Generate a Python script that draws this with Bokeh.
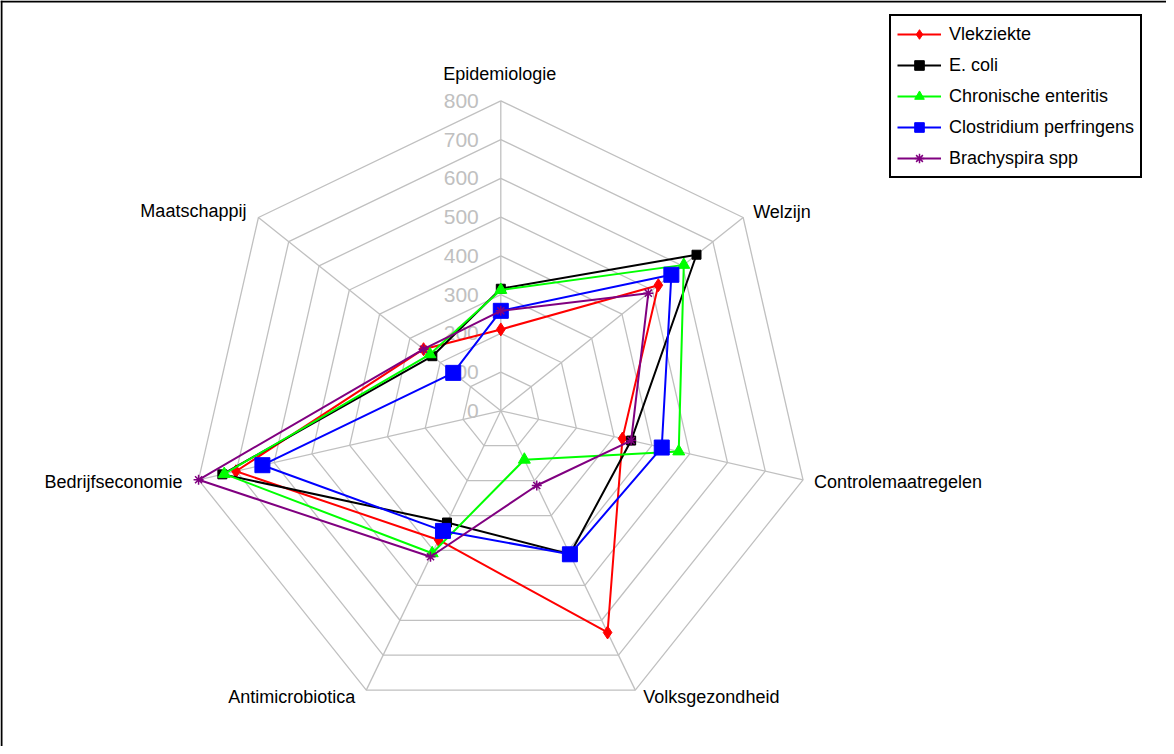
import math
from bokeh.plotting import figure
from bokeh.models import Range1d, Legend, LegendItem
from bokeh.core.properties import value
from bokeh.embed import file_html
from bokeh.resources import INLINE

# ---- data ----
categories = ["Epidemiologie", "Welzijn", "Controlemaatregelen", "Volksgezondheid",
              "Antimicrobiotica", "Bedrijfseconomie", "Maatschappij"]
series_names = ["Vlekziekte", "E. coli", "Chronische enteritis",
                "Clostridium perfringens", "Brachyspira spp"]
vlekziekte = [210, 520, 322, 635, 370, 701, 255]
e_coli = [315, 646, 345, 411, 320, 737, 226]
chronische_enteritis = [312, 604, 471, 140, 408, 732, 234]
clostridium_perfringens = [258, 563, 426, 411, 344, 631, 157]
brachyspira_spp = [258, 487, 345, 214, 418, 800, 255]
tick_values = [0, 100, 200, 300, 400, 500, 600, 700, 800]
tick_labels = [str(v) for v in tick_values]

series_values = [vlekziekte, e_coli, chronische_enteritis, clostridium_perfringens, brachyspira_spp]
series_colors = ["#ff0000", "#000000", "#00ff00", "#0000ff", "#800080"]
series_markers = ["diamond", "square", "triangle", "square", "asterisk"]
series_sizes = [13, 9, 12, 15, 10]

# ---- geometry ----
W, H = 1166, 746
PX = 0.3875           # pixels per data unit
CX, CY = 500.3, 410.3 # centre in figure pixels (from left, from top)
x0 = -CX / PX
x1 = (W - CX) / PX
y1 = CY / PX
y0 = -(H - CY) / PX

FONT = "Liberation Sans"
n = len(categories)
angles = [math.pi / 2 - 2 * math.pi * i / n for i in range(n)]

def to_xy(vals):
    xs = [v * math.cos(a) for v, a in zip(vals, angles)]
    ys = [v * math.sin(a) for v, a in zip(vals, angles)]
    return xs, ys

p = figure(width=W, height=H, x_range=Range1d(x0, x1), y_range=Range1d(y0, y1),
           output_backend="svg", toolbar_location=None, min_border=0,
           x_axis_type=None, y_axis_type=None)
p.outline_line_color = None
p.background_fill_color = "white"
p.border_fill_color = "white"

# chart frame (left and top visible)
p.line([x0 + 1 / PX, x0 + 1 / PX], [y0, y1], line_color="black", line_width=2)
p.line([x0, x1], [y1 - 1 / PX, y1 - 1 / PX], line_color="black", line_width=2)

GRID = "#c0c0c0"
rmax = tick_values[-1]
for v in tick_values[1:]:
    xs, ys = to_xy([v] * n)
    p.line(xs + [xs[0]], ys + [ys[0]], line_color=GRID, line_width=1.3)
sx, sy = to_xy([rmax] * n)
p.segment(x0=[0] * n, y0=[0] * n, x1=sx, y1=sy, line_color=GRID, line_width=1.3)

# tick labels
p.text(x=[0] * len(tick_values), y=tick_values, text=tick_labels, x_offset=-22,
       text_align="right", text_baseline="middle", text_color="#c0c0c0",
       text_font=value(FONT), text_font_size="21px")

# category labels
offsets = [(-1, -27, "center"), (10, -6, "left"), (11, 2, "left"), (8, 7, "left"),
           (-11, 7, "right"), (-16, 2, "right"), (-12, -7, "right")]
for i, cat in enumerate(categories):
    dx, dy, al = offsets[i]
    p.text(x=[sx[i]], y=[sy[i]], text=[cat], x_offset=dx, y_offset=dy,
           text_align=al, text_baseline="middle", text_color="black",
           text_font=value(FONT), text_font_size="18px")

items = []
for name, vals, col, mk, sz in zip(series_names, series_values, series_colors,
                                    series_markers, series_sizes):
    xs, ys = to_xy(vals)
    lr = p.line(xs + [xs[0]], ys + [ys[0]], line_color=col, line_width=2)
    mr = p.scatter(xs, ys, marker=mk, size=sz, fill_color=col, line_color=col,
                   line_width=1.5 if mk == "asterisk" else 1)
    items.append(LegendItem(label=name, renderers=[lr, mr]))

legend = Legend(items=items, location=(889, 568), orientation="vertical",
                label_text_font=FONT, label_text_font_size="18px",
                label_text_color="black",
                glyph_width=44, glyph_height=24, label_height=24, label_width=185,
                label_standoff=8, spacing=7, padding=6, margin=0,
                border_line_color="black", border_line_width=2, border_line_alpha=1.0,
                background_fill_color="white", background_fill_alpha=1.0)
p.add_layout(legend)

open("out.html", "w").write(file_html(p, INLINE))
